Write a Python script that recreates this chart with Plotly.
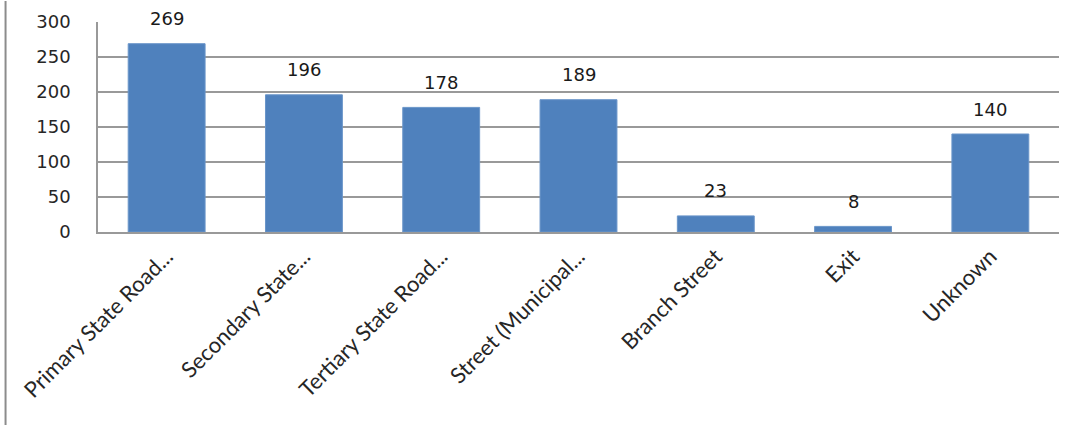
import plotly.graph_objects as go

categories = ["Primary State Road...", "Secondary State...", "Tertiary State Road...",
              "Street (Municipal...", "Branch Street", "Exit", "Unknown"]
values = [269, 196, 178, 189, 23, 8, 140]
y_ticks = [0, 50, 100, 150, 200, 250, 300]

fig = go.Figure()
fig.add_trace(go.Bar(
    x=categories, y=values,
    marker=dict(color="#4F81BD", line=dict(color="#6A95C9", width=1)),
    hoverinfo="skip",
))

for c, v in zip(categories, values):
    fig.add_annotation(x=c, y=v, text=str(v), showarrow=False, yanchor="middle",
                       yshift=25, font=dict(family="DejaVu Sans", size=18, color="#1a1a1a"))

# outer chart border on the left
fig.add_shape(type="line", xref="paper", yref="paper", x0=-0.0962, x1=-0.0962, y0=-1.2, y1=1.1,
              line=dict(color="#8c8c8c", width=2))

fig.update_layout(
    width=1070, height=425,
    margin=dict(l=98, r=11, t=20, b=193),
    paper_bgcolor="white", plot_bgcolor="white",
    bargap=0.44, showlegend=False,
    xaxis=dict(
        tickangle=-45, showgrid=False, showline=True, linecolor="#999999", linewidth=2,
        tickfont=dict(family="Lato", size=22, color="#262626"), ticks="", ticklabelstandoff=1,
    ),
    yaxis=dict(
        range=[0, 300], tickvals=y_ticks, showgrid=True, gridcolor="#999999", gridwidth=1.5,
        showline=True, linecolor="#999999", linewidth=1.5, zeroline=False,
        tickfont=dict(family="DejaVu Sans", size=18, color="#262626"), ticks="", ticklabelstandoff=22,
    ),
)

fig.write_html("out.html")
